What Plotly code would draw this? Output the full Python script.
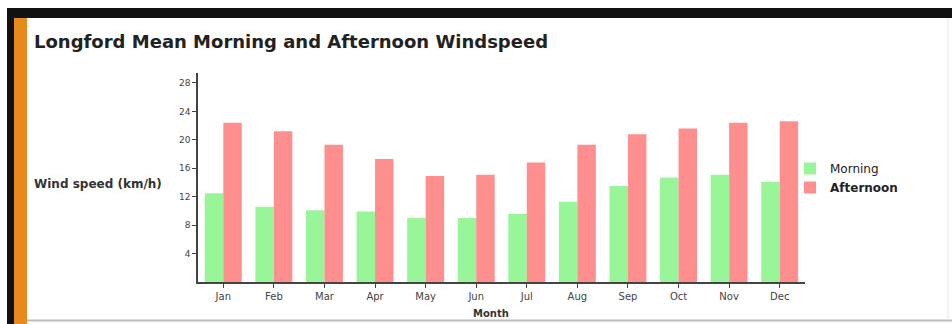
import plotly.graph_objects as go

months = ["Jan", "Feb", "Mar", "Apr", "May", "Jun", "Jul", "Aug", "Sep", "Oct", "Nov", "Dec"]
morning = [12.5, 10.6, 10.1, 9.9, 9.0, 9.0, 9.6, 11.3, 13.5, 14.7, 15.1, 14.1]
afternoon = [22.4, 21.2, 19.3, 17.3, 14.9, 15.1, 16.8, 19.3, 20.8, 21.6, 22.4, 22.6]
y_ticks = [4, 8, 12, 16, 20, 24, 28]

W, H = 952, 324
L, R, T, B = 198, 805, 73, 282


def px(x):
    return (x - L) / (R - L)


def py(y):
    return (B - y) / (B - T)


fig = go.Figure()
fig.add_trace(go.Bar(x=months, y=morning, name="Morning",
                     marker=dict(color="#98f598", line=dict(width=0))))
fig.add_trace(go.Bar(x=months, y=afternoon, name="<b>Afternoon</b>",
                     marker=dict(color="#ff8f8f", line=dict(width=0))))

fig.update_layout(
    width=W, height=H,
    margin=dict(l=L, r=W - R, t=T, b=H - B, pad=0),
    paper_bgcolor="white", plot_bgcolor="white",
    barmode="group", bargap=0.27, bargroupgap=0,
    font=dict(family="DejaVu Sans", size=10, color="#333"),
    showlegend=True,
    legend=dict(x=px(790), y=py(154), xanchor="left", yanchor="top",
                font=dict(size=12, color="#222"), tracegroupgap=0,
                itemwidth=30, bgcolor="rgba(0,0,0,0)"),
    xaxis=dict(showline=True, linecolor="#444", linewidth=1.5,
               ticks="outside", ticklen=4, tickcolor="#444",
               tickfont=dict(size=10, color="#444"),
               showgrid=False, fixedrange=True),
    yaxis=dict(range=[0, 29.4], tickvals=y_ticks, showline=True,
               linecolor="#444", linewidth=1.5,
               ticks="outside", ticklen=4, tickcolor="#444",
               tickfont=dict(size=9, color="#444"),
               showgrid=False, zeroline=False, fixedrange=True),
)

# frame
shapes = [
    dict(type="rect", xref="paper", yref="paper", x0=px(7), x1=px(952), y0=py(18), y1=py(8),
         fillcolor="#111", line=dict(width=0)),
    dict(type="rect", xref="paper", yref="paper", x0=px(7), x1=px(14), y0=py(324), y1=py(8),
         fillcolor="#111", line=dict(width=0)),
    dict(type="rect", xref="paper", yref="paper", x0=px(14), x1=px(27), y0=py(324), y1=py(18),
         fillcolor="#e8891e", line=dict(width=0)),
    dict(type="line", xref="paper", yref="paper", x0=px(27), x1=px(952), y0=py(320.5), y1=py(320.5),
         line=dict(color="#bbb", width=2)),
    dict(type="line", xref="paper", yref="paper", x0=px(948), x1=px(948), y0=py(320), y1=py(18),
         line=dict(color="#e6e6e6", width=1)),
]
fig.update_layout(shapes=shapes)

fig.add_annotation(text="<b>Longford Mean Morning and Afternoon Windspeed</b>",
                   xref="paper", yref="paper", x=px(32), y=py(41),
                   xanchor="left", yanchor="middle", showarrow=False,
                   font=dict(family="DejaVu Sans", size=18, color="#222"))
fig.add_annotation(text="<b>Wind speed (km/h)</b>",
                   xref="paper", yref="paper", x=px(32), y=py(184),
                   xanchor="left", yanchor="middle", showarrow=False,
                   font=dict(family="DejaVu Sans", size=12, color="#333"))
fig.add_annotation(text="<b>Month</b>",
                   xref="paper", yref="paper", x=px(491), y=py(313),
                   xanchor="center", yanchor="middle", showarrow=False,
                   font=dict(family="DejaVu Sans", size=10, color="#333"))

fig.write_html("out.html", config=dict(displayModeBar=False))
